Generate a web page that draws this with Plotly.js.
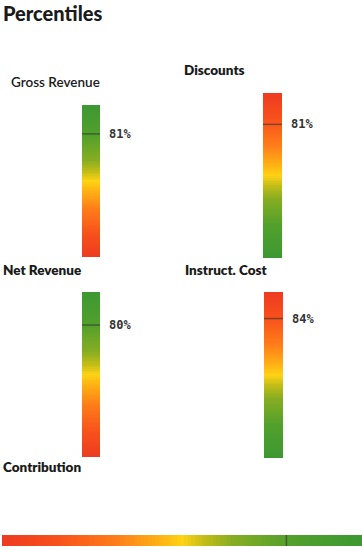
<!DOCTYPE html>
<html><head><meta charset="utf-8">
<script src="https://cdn.plot.ly/plotly-3.0.1.min.js"></script>
<style>html,body{margin:0;padding:0;background:#fff}#chart{width:362px;height:550px}</style>
</head><body><div id="chart"></div>
<script>
const metrics = ["Gross Revenue", "Discounts", "Net Revenue", "Instruct. Cost", "Contribution"];
const percentiles = [81, 81, 80, 84, 79];
const percentLabels = ["81%", "81%", "80%", "84%", ""];
const higherIsBetter = [true, false, true, false, true];
const chartTitle = "Percentiles";

// colour ramp from worst (red) to best (green)
const ramp = [
  [0.00, '#ee3a22'], [0.15, '#f8501c'], [0.32, '#ff7d1a'], [0.44, '#ffb314'],
  [0.50, '#ffd214'], [0.56, '#c4bd18'], [0.64, '#86ad22'], [0.80, '#52a02c'], [1.00, '#3c9832']
];
const rampRev = ramp.map(([p, c]) => [1 - p, c]).reverse();

// layout geometry (pixels) for each gauge
const W = 362, H = 550;
const boxes = [
  {x0: 82, x1: 100, y0: 105, y1: 257, vertical: true},
  {x0: 263, x1: 282, y0: 93, y1: 258, vertical: true},
  {x0: 82, x1: 100, y0: 292, y1: 457, vertical: true},
  {x0: 264, x1: 283, y0: 292, y1: 458, vertical: true},
  {x0: 2, x1: 362, y0: 535, y1: 546, vertical: false}
];
const titlePos = [
  {x: 9, y: 82, weight: 600}, {x: 182, y: 70, weight: 800},
  {x: 1, y: 270, weight: 800}, {x: 183, y: 270, weight: 800}, {x: 1, y: 467, weight: 800}
];

const steps = [];
for (let i = 0; i <= 100; i++) steps.push(i);

const traces = [];
const layout = {
  width: W, height: H, margin: {l: 0, r: 0, t: 0, b: 0},
  paper_bgcolor: '#fff', plot_bgcolor: 'rgba(0,0,0,0)', showlegend: false,
  annotations: [], font: {family: 'Lato, sans-serif'}
};

layout.annotations.push({
  text: chartTitle, xref: 'paper', yref: 'paper',
  x: 1 / W, y: 1 - 13 / H, xanchor: 'left', yanchor: 'middle', showarrow: false,
  font: {family: 'Lato, sans-serif', size: 20, weight: 900, color: '#1a1a1a'}
});

metrics.forEach((m, i) => {
  const b = boxes[i];
  const ax = i === 0 ? '' : String(i + 1);
  const xa = 'x' + ax, ya = 'y' + ax;
  const cs = higherIsBetter[i] ? ramp : rampRev;
  if (b.vertical) {
    traces.push({type: 'heatmap', xaxis: xa, yaxis: ya, x: [0], y: steps,
      z: steps.map(v => [v]), colorscale: cs, zmin: 0, zmax: 100, showscale: false, hoverinfo: 'skip'});
    traces.push({type: 'scatter', mode: 'lines', xaxis: xa, yaxis: ya, x: [-0.5, 0.5],
      y: [percentiles[i], percentiles[i]], line: {color: 'rgba(50,50,50,0.6)', width: 1.5}, hoverinfo: 'skip'});
  } else {
    traces.push({type: 'heatmap', xaxis: xa, yaxis: ya, y: [0], x: steps,
      z: [steps], colorscale: cs, zmin: 0, zmax: 100, showscale: false, hoverinfo: 'skip'});
    traces.push({type: 'scatter', mode: 'lines', xaxis: xa, yaxis: ya, y: [-0.5, 0.5],
      x: [percentiles[i], percentiles[i]], line: {color: 'rgba(50,50,50,0.6)', width: 1.5}, hoverinfo: 'skip'});
  }
  const common = {showgrid: false, zeroline: false, showticklabels: false, ticks: '', fixedrange: true, showline: false};
  const xKey = 'xaxis' + ax, yKey = 'yaxis' + ax;
  if (b.vertical) {
    layout[xKey] = Object.assign({}, common, {domain: [b.x0 / W, b.x1 / W], range: [-0.5, 0.5], anchor: ya});
    layout[yKey] = Object.assign({}, common, {domain: [1 - b.y1 / H, 1 - b.y0 / H], range: [0, 100], anchor: xa});
  } else {
    layout[xKey] = Object.assign({}, common, {domain: [b.x0 / W, b.x1 / W], range: [0, 100], anchor: ya});
    layout[yKey] = Object.assign({}, common, {domain: [1 - b.y1 / H, 1 - b.y0 / H], range: [-0.5, 0.5], anchor: xa});
  }
  const t = titlePos[i];
  layout.annotations.push({
    text: m, xref: 'paper', yref: 'paper',
    x: t.x / W, y: 1 - t.y / H, xanchor: 'left', yanchor: 'middle', showarrow: false,
    font: {family: 'Lato, sans-serif', size: 13.5, weight: t.weight, color: '#1a1a1a'}
  });
  if (percentLabels[i]) {
    layout.annotations.push({
      text: percentLabels[i], xref: 'paper', yref: ya,
      x: (b.x1 + 7) / W, y: percentiles[i], xanchor: 'left', yanchor: 'middle', showarrow: false,
      font: {family: 'DejaVu Sans Mono, monospace', size: 12, weight: 600, color: '#333'}
    });
  }
});

Plotly.newPlot('chart', traces, layout, {staticPlot: true, displayModeBar: false});
</script></body></html>
